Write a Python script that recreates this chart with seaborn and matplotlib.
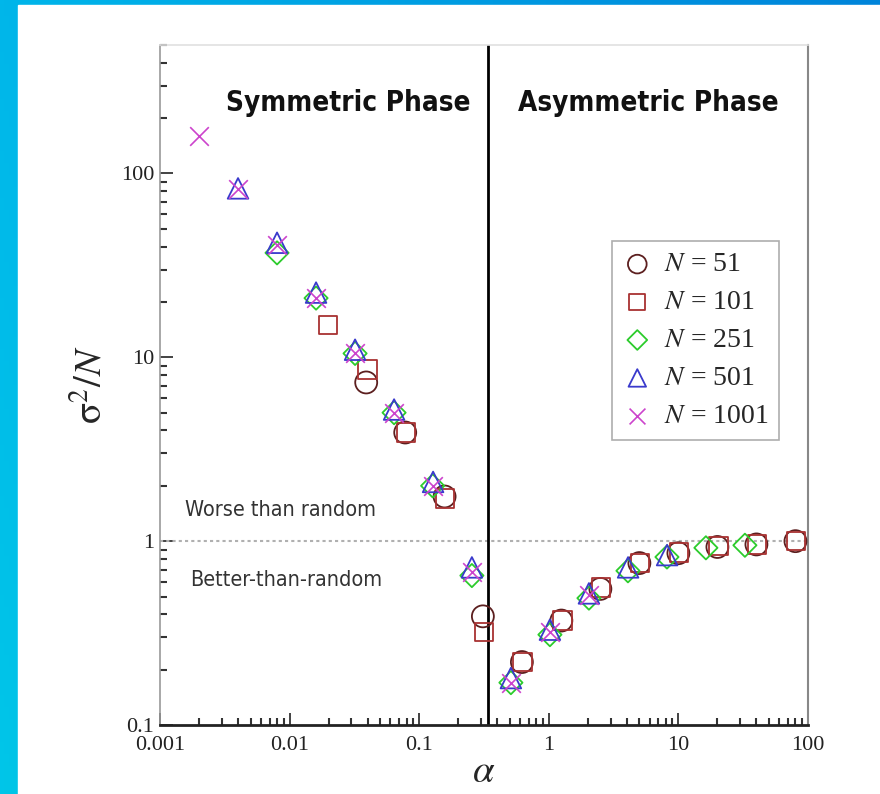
import numpy as np
import pandas as pd
import seaborn as sns
import matplotlib.pyplot as plt
from matplotlib.patches import Rectangle

# values (alpha = 2^m / N)
alpha_51 = [0.039, 0.078, 0.157, 0.31, 0.62, 1.25, 2.5, 5.0, 10.0, 20.0, 40.0, 80.0]
var_51 = [7.3, 3.9, 1.75, 0.39, 0.22, 0.37, 0.55, 0.76, 0.86, 0.93, 0.96, 1.0]

alpha_101 = [0.0198, 0.040, 0.079, 0.158, 0.317, 0.63, 1.27, 2.53, 5.07, 10.1, 20.3, 40.5, 81.0]
var_101 = [15.0, 8.6, 3.9, 1.7, 0.32, 0.22, 0.37, 0.56, 0.76, 0.87, 0.94, 0.96, 1.0]

alpha_251 = [0.008, 0.016, 0.032, 0.064, 0.127, 0.255, 0.51, 1.02, 2.04, 4.08, 8.16, 16.3, 32.6]
var_251 = [37.0, 21.0, 10.5, 5.0, 2.0, 0.65, 0.17, 0.31, 0.49, 0.69, 0.82, 0.92, 0.95]

alpha_501 = [0.004, 0.008, 0.016, 0.032, 0.064, 0.128, 0.255, 0.51, 1.02, 2.04, 4.09, 8.18]
var_501 = [83.0, 42.0, 22.5, 11.0, 5.2, 2.1, 0.72, 0.18, 0.33, 0.52, 0.72, 0.84]

alpha_1001 = [0.002, 0.004, 0.008, 0.016, 0.032, 0.064, 0.128, 0.256, 0.51, 1.02, 2.05]
var_1001 = [160.0, 82.0, 41.0, 21.0, 10.5, 5.0, 2.0, 0.68, 0.17, 0.32, 0.51]

series_N = [51, 101, 251, 501, 1001]
alpha_c = 0.3374

df = pd.concat([
    pd.DataFrame({"alpha": a, "var": v, "N": n})
    for a, v, n in zip([alpha_51, alpha_101, alpha_251, alpha_501, alpha_1001],
                       [var_51, var_101, var_251, var_501, var_1001], series_N)
])

markers = {51: "o", 101: "s", 251: "D", 501: "^", 1001: "x"}
colors = {51: "#5c1f1f", 101: "#a83232", 251: "#2ccc2c", 501: "#3a3acc", 1001: "#cc44cc"}
sizes = {51: 250, 101: 180, 251: 140, 501: 220, 1001: 180}

sns.set_style("ticks")
plt.rcParams["font.family"] = ["Liberation Serif", "DejaVu Serif"]
plt.rcParams["mathtext.fontset"] = "stix"

fig = plt.figure(figsize=(8.8, 7.94), dpi=100)

# blue frame behind a white panel
bg = fig.add_axes([0, 0, 1, 1], zorder=-10)
xx = np.linspace(0, 1, 200)
yy = np.linspace(0, 1, 200)
X, Y = np.meshgrid(xx, yy)
c0 = np.array([0x00, 0xb6, 0xea]) / 255
c1 = np.array([0x00, 0x84, 0xda]) / 255
c2 = np.array([0x00, 0xc6, 0xe8]) / 255
img = c0 + X[..., None] * (c1 - c0) + Y[..., None] * (c2 - c0)
bg.imshow(np.clip(img, 0, 1), extent=[0, 1, 0, 1], aspect="auto", origin="upper")
bg.add_patch(Rectangle((18 / 880, 0), 1, 1 - 5 / 794, color="white"))
bg.set_xlim(0, 1)
bg.set_ylim(0, 1)
bg.axis("off")

ax = fig.add_axes([160 / 880, 1 - 725 / 794, 648 / 880, 680 / 794])

for n in series_N:
    sub = df[df["N"] == n]
    if markers[n] == "x":
        sns.scatterplot(data=sub, x="alpha", y="var", marker="x", s=sizes[n],
                        color=colors[n], linewidth=1.2, ax=ax, label=rf"$N$ = {n}", zorder=3)
    else:
        sns.scatterplot(data=sub, x="alpha", y="var", marker=markers[n], s=sizes[n],
                        facecolors="none", edgecolor=colors[n], linewidth=1.3, ax=ax,
                        label=rf"$N$ = {n}", zorder=3)

ax.set_xscale("log")
ax.set_yscale("log")
ax.set_xlim(0.001, 100)
ax.set_ylim(0.1, 500)

ax.axvline(alpha_c, color="black", lw=2, zorder=2)
ax.axhline(1, color="#b0b0b0", lw=1.5, ls=(0, (1.5, 1.5)), zorder=1)

ax.set_xticks([0.001, 0.01, 0.1, 1, 10, 100])
ax.set_xticklabels(["0.001", "0.01", "0.1", "1", "10", "100"])
ax.set_yticks([0.1, 1, 10, 100])
ax.set_yticklabels(["0.1", "1", "10", "100"])
ax.tick_params(axis="both", which="major", direction="in", length=9, width=1.2,
               labelsize=16, colors="#222222")
ax.tick_params(axis="both", which="minor", direction="in", length=5, width=1.5, color="#333333")
ax.tick_params(axis="x", pad=8)
ax.tick_params(axis="y", pad=4)

for side, col, lw in [("left", "#9a9a9a", 1.2), ("bottom", "#222222", 2.0),
                      ("right", "#888888", 1.5), ("top", "#e0e0e0", 1.2)]:
    ax.spines[side].set_visible(True)
    ax.spines[side].set_color(col)
    ax.spines[side].set_linewidth(lw)

ax.set_xlabel(r"$\alpha$", fontsize=28, labelpad=-1)
ax.set_ylabel(r"$\mathrm{\sigma}^2/N$", fontsize=28, labelpad=8)

phase_kw = dict(family="DejaVu Sans", fontstretch="condensed", fontweight="bold",
                color="#111111", transform=ax.transAxes, ha="center", va="center")
ax.text(0.29, 0.915, "Symmetric Phase", fontsize=20, **phase_kw)
ax.text(0.753, 0.915, "Asymmetric Phase", fontsize=20, **phase_kw)
note_kw = dict(family="DejaVu Sans", fontstretch="condensed", color="#333333",
               transform=ax.transAxes, ha="left", va="center", fontsize=15.5)
ax.text(0.038, 0.316, "Worse than random", **note_kw)
ax.text(0.046, 0.213, "Better-than-random", **note_kw)

leg = ax.legend(loc="upper left", bbox_to_anchor=(0.698, 0.712), borderaxespad=0,
                fontsize=20, frameon=True, fancybox=False, edgecolor="#999999",
                handletextpad=0.45, labelspacing=0.45, borderpad=0.4, handlelength=1.0,
                markerscale=0.85)
leg.get_frame().set_linewidth(1.2)

fig.savefig("out.png", dpi=100)
